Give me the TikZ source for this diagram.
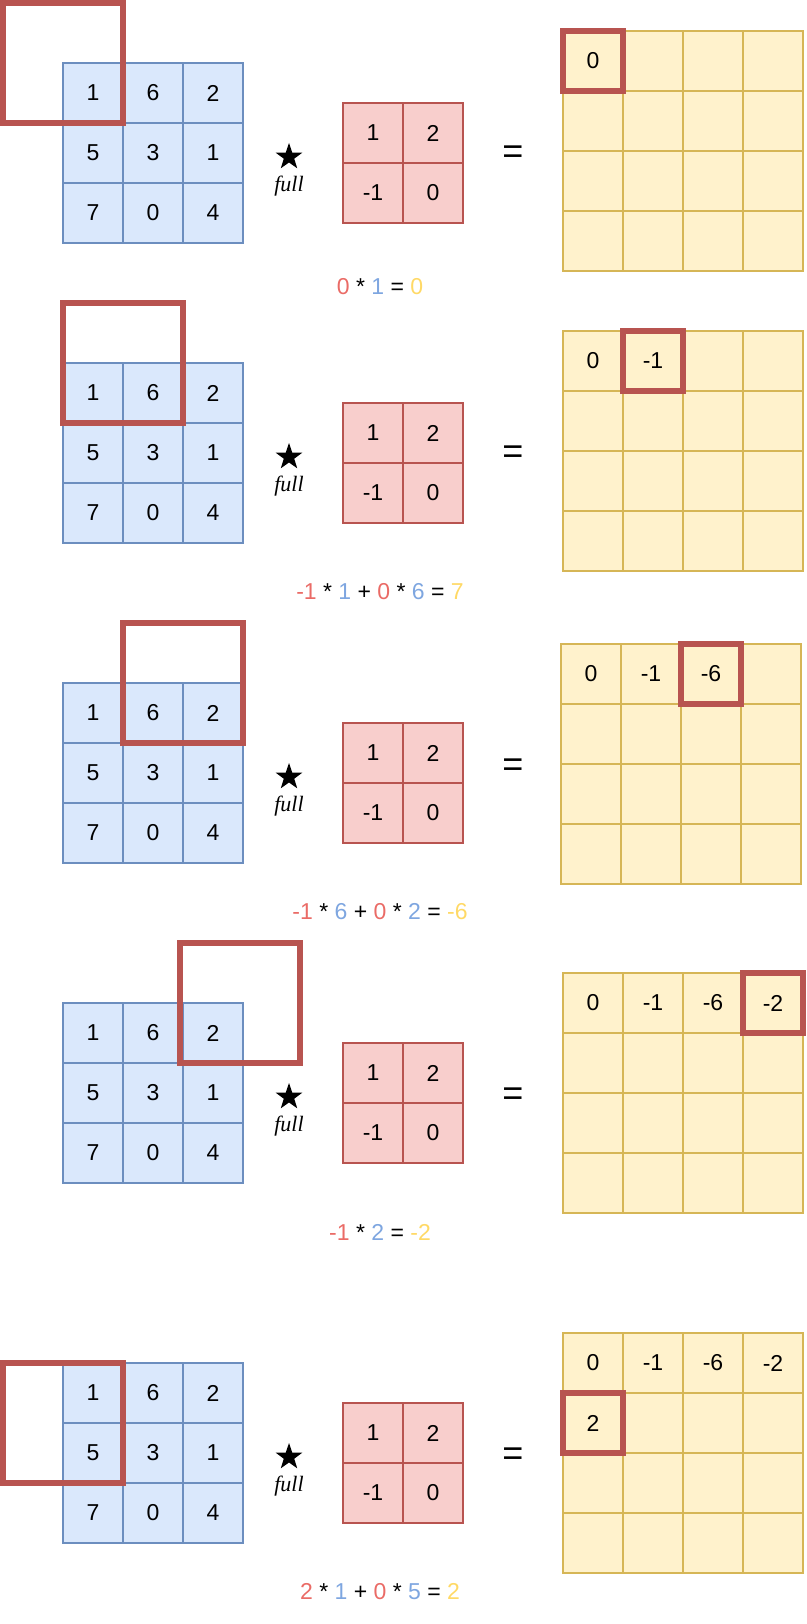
\documentclass[tikz,border=0pt]{standalone}
\usepackage{fontspec}
\setmainfont{Liberation Sans}
\newfontfamily\fullfont{Liberation Serif}
\usetikzlibrary{shapes.geometric}

\definecolor{infill}{HTML}{DAE8FC}
\definecolor{inline}{HTML}{6C8EBF}
\definecolor{kfill}{HTML}{F8CECC}
\definecolor{kline}{HTML}{B85450}
\definecolor{yfill}{HTML}{FFF2CC}
\definecolor{yline}{HTML}{D6B656}
\definecolor{eqred}{HTML}{EA6B66}
\definecolor{eqblue}{HTML}{7EA6E0}
\definecolor{eqyel}{HTML}{FFD966}

\tikzset{
	cell/.style={minimum size=60pt, inner sep=0pt, outer sep=0pt, line width=1.6pt, font=\fontsize{23}{27}\selectfont},
	incell/.style={cell, draw=inline, fill=infill},
	kcell/.style={cell, draw=kline, fill=kfill},
	outcell/.style={cell, draw=yline, fill=yfill},
	val/.style={inner sep=0pt, font=\fontsize{23}{27}\selectfont},
	win/.style={draw=kline, line width=6pt},
	starmark/.style={star, star points=5, star point ratio=2.55, fill=black, inner sep=0pt, minimum size=28pt},
	fullmark/.style={inner sep=0pt, font=\fontsize{22}{26}\selectfont\fullfont\itshape},
	eqsign/.style={inner sep=0pt, font=\fontsize{36}{40}\selectfont},
	eqtext/.style={inner sep=0pt, font=\fontsize{23}{27}\selectfont},
}

% one step: input grid, kernel, star and the empty output grid
\newcommand{\convpanel}[4]{%
	\foreach \row/\vals in {0/{1,6,2},1/{5,3,1},2/{7,0,4}}
		\foreach \v [count=\col from 0] in \vals
			\node[incell] (#1in\row\col) at (93+60*\col, #2+30+60*\row) {\v};
	\foreach \row/\vals in {0/{1,2},1/{-1,0}}
		\foreach \v [count=\col from 0] in \vals
			\node[kcell] (#1k\row\col) at (373+60*\col, #2+70+60*\row) {\v};
	\node[starmark] (#1star) at (289, #2+94) {};
	\node[fullmark] (#1full) at (289, #2+123) {full};
	\foreach \row in {0,...,3}
		\foreach \col in {0,...,3}
			\node[outcell] (#1out\row\col) at (#3+30+60*\col, #4+30+60*\row) {};
	\node[eqsign] (#1eq) at (513, #4+124) {=};
}

\begin{document}
\begin{tikzpicture}[x=1pt, y=-1pt]
	\useasboundingbox (0,0) rectangle (806,1624);

	% step 1
	\convpanel{p1}{63}{563}{31}
	\node[val] (p1v0) at (p1out00) {0};
	\draw[win] (3,3) rectangle (123,123);
	\draw[win] (p1out00.north west) rectangle (p1out00.south east);
	\node[eqtext] (p1sum) at (380,287) {\textcolor{eqred}{0} * \textcolor{eqblue}{1} = \textcolor{eqyel}{0}};

	% step 2
	\convpanel{p2}{363}{563}{331}
	\node[val] (p2v0) at (p2out00) {0};
	\node[val] (p2v1) at (p2out01) {-1};
	\draw[win] (63,303) rectangle (183,423);
	\draw[win] (p2out01.north west) rectangle (p2out01.south east);
	\node[eqtext] (p2sum) at (380,592) {\textcolor{eqred}{-1} * \textcolor{eqblue}{1} + \textcolor{eqred}{0} * \textcolor{eqblue}{6} = \textcolor{eqyel}{7}};

	% step 3
	\convpanel{p3}{683}{561}{644}
	\node[val] (p3v0) at (p3out00) {0};
	\node[val] (p3v1) at (p3out01) {-1};
	\node[val] (p3v2) at (p3out02) {-6};
	\draw[win] (123,623) rectangle (243,743);
	\draw[win] (p3out02.north west) rectangle (p3out02.south east);
	\node[eqtext] (p3sum) at (380,912) {\textcolor{eqred}{-1} * \textcolor{eqblue}{6} + \textcolor{eqred}{0} * \textcolor{eqblue}{2} = \textcolor{eqyel}{-6}};

	% step 4
	\convpanel{p4}{1003}{563}{973}
	\node[val] (p4v0) at (p4out00) {0};
	\node[val] (p4v1) at (p4out01) {-1};
	\node[val] (p4v2) at (p4out02) {-6};
	\node[val] (p4v3) at (p4out03) {-2};
	\draw[win] (180,943) rectangle (300,1063);
	\draw[win] (p4out03.north west) rectangle (p4out03.south east);
	\node[eqtext] (p4sum) at (380,1232) {\textcolor{eqred}{-1} * \textcolor{eqblue}{2} = \textcolor{eqyel}{-2}};

	% step 5
	\convpanel{p5}{1363}{563}{1333}
	\node[val] (p5v0) at (p5out00) {0};
	\node[val] (p5v1) at (p5out01) {-1};
	\node[val] (p5v2) at (p5out02) {-6};
	\node[val] (p5v3) at (p5out03) {-2};
	\node[val] (p5v4) at (p5out10) {2};
	\draw[win] (3,1363) rectangle (123,1483);
	\draw[win] (p5out10.north west) rectangle (p5out10.south east);
	\node[eqtext] (p5sum) at (380,1592) {\textcolor{eqred}{2} * \textcolor{eqblue}{1} + \textcolor{eqred}{0} * \textcolor{eqblue}{5} = \textcolor{eqyel}{2}};
\end{tikzpicture}
\end{document}
